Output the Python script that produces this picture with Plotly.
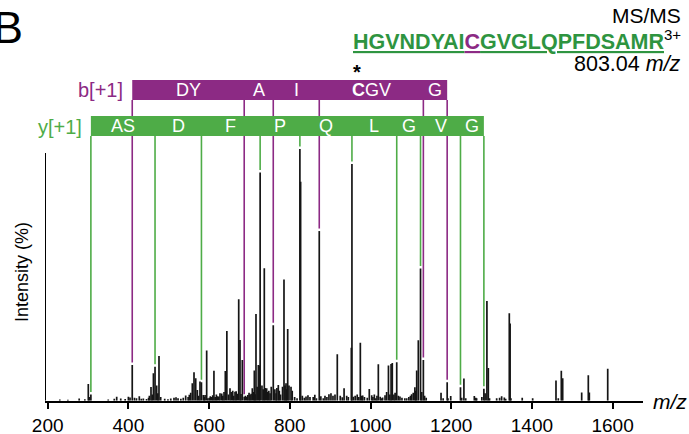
import plotly.graph_objects as go

# ---- spectrum data (m/z, relative intensity %) ----
peak_mz = [
    230, 250, 278, 292, 300.6, 303, 350, 365, 371, 381, 392, 400, 404, 415,
    420, 427, 432, 437, 445, 450, 452, 456, 459, 462, 470, 473, 475.8, 480, 490, 498,
    505, 513, 518, 523, 530, 536, 542, 548, 551, 554.4, 558.4, 562.6, 566.8, 570.8,
    574, 577.4, 585.6, 588, 590, 594, 597,
    600.5, 603, 606.4, 609, 612, 615, 618, 620.3, 624, 627, 631.2, 634, 637, 640.2,
    644, 648, 651.8, 655, 658.5, 661, 664.2, 667, 670, 673.4, 676.6, 679, 682.3,
    690, 693.2, 696, 699, 701.4, 704, 707.1, 710, 712.1, 714, 716.2, 719, 722,
    724.6, 731, 734, 736.8, 739, 742.7, 745, 748, 751, 754, 763, 766, 768,
    771.5, 774, 777, 782, 785.6, 788, 790.6, 792, 794.8, 798, 803, 806,
    812, 818, 826.8, 831, 836, 840.2, 845, 850, 858, 862, 866, 877, 883, 887.2,
    892, 897, 902, 907, 912, 917.7, 925, 930, 934.5, 941, 945, 952.5, 957.5,
    962, 967, 971, 974.8, 978, 980.7, 985, 992, 997,
    1003, 1006, 1009.5, 1013, 1016, 1019.4, 1024, 1027, 1030, 1036, 1040, 1044.5,
    1048, 1051, 1054, 1058, 1061, 1069, 1073, 1078, 1085, 1089.7, 1095, 1099,
    1102, 1106, 1110, 1112, 1114.5, 1118.5, 1127, 1134, 1138, 1174.8, 1180,
    1192, 1198.8, 1226, 1231.5, 1236, 1257.3, 1261, 1263, 1276, 1284, 1288.5,
    1292, 1295, 1312.7, 1320, 1325, 1331.6, 1335, 1344, 1346, 1348, 1376,
    1401.9, 1459.7, 1465.4, 1472.9, 1476.3, 1523.4, 1539.8, 1542.3, 1587.9,
]
peak_int = [
    0.5, 0.4, 0.9, 0.6, 6.6, 1.5, 0.5, 0.8, 1.6, 0.9, 0.7, 1.6, 1.3, 1.2,
    1.0, 1.8, 0.8, 0.9, 0.7, 1.2, 2.0, 5.4, 2.5, 10.9, 6.0, 3.0, 17.8, 1.5, 0.8, 0.6,
    0.9, 1.2, 1.4, 1.0, 0.8, 1.2, 2.1, 1.5, 2.4, 3.2, 6.9, 11.3, 8.9, 4.3,
    2.0, 7.6, 2.3, 1.5, 2.3, 19.9, 1.0,
    1.2, 1.8, 1.5, 2.2, 11.9, 1.5, 2.5, 1.8, 1.7, 3.0, 2.9, 2.0, 3.5, 11.8,
    27.7, 2.5, 4.9, 3.5, 4.0, 2.0, 3.6, 3.8, 2.8, 40.3, 24.1, 2.7, 16.2,
    2.0, 1.6, 2.3, 3.2, 2.3, 2.8, 4.9, 3.5, 12.0, 2.6, 34.4, 5.5, 14.2,
    14.0, 6.0, 4.5, 52.6, 5.0, 4.9, 3.5, 4.0, 3.0, 5.5, 4.5, 3.0, 5.0,
    6.2, 4.0, 2.5, 5.5, 48.2, 6.0, 6.9, 4.5, 28.5, 6.0, 5.5, 4.0,
    1.5, 1.0, 87.0, 2.0, 1.2, 1.7, 2.2, 1.5, 1.5, 2.4, 1.0, 1.8, 1.0, 2.0,
    1.5, 2.6, 3.0, 2.0, 2.5, 18.5, 2.0, 1.4, 4.9, 2.0, 1.5, 21.0, 1.6,
    2.0, 2.5, 1.5, 23.0, 2.0, 2.1, 1.5, 1.2, 4.6,
    2.2, 1.5, 2.5, 1.0, 2.0, 14.5, 1.6, 1.0, 1.3, 2.2, 3.5, 14.0,
    2.5, 14.6, 15.0, 2.5, 3.2, 2.0, 1.7, 1.2, 1.0, 1.0, 1.5, 2.0,
    2.6, 3.2, 5.3, 4.0, 12.0, 24.0, 3.5, 2.0, 1.2, 3.2, 1.0,
    1.0, 1.9, 1.2, 8.8, 1.0, 1.9, 1.2, 1.0, 1.5, 3.0, 39.6,
    13.0, 1.0, 1.0, 1.2, 1.8, 1.3, 0.8, 34.7, 30.7, 1.0, 1.2,
    1.0, 8.0, 1.0, 11.9, 8.9, 3.3, 10.1, 3.3, 12.7,
]

# ---- assigned fragment ions: position and matched peak intensity ----
b_mz = [409.5, 687, 759, 873, 1131, 1190]
b_int = [14.2, 1.6, 30.0, 67.4, 16.2, 7.3]
b_labels = ["DY", "A", "I", "<b>C</b>GV", "G"]

y_mz = [307, 466, 581, 726.5, 825, 954, 1065, 1124, 1223, 1281]
y_int = [2.5, 13.5, 7.3, 90.7, 100.0, 94.0, 15.3, 52.5, 5.3, 4.7]
y_labels = ["AS", "D", "F", "P", "Q", "L", "G", "V", "G"]

x_ticks = [200, 400, 600, 800, 1000, 1200, 1400, 1600]

PURPLE = "#8C2A84"
GREEN = "#4EAC47"
GREEN_TXT = "#2E9440"
FONT = "Liberation Sans, Arial, sans-serif"

W, H = 689, 434
X_RANGE = [193.3, 1674.6]
Y_TOP = 159.2          # intensity units at the top of the page
B_BAR = (119.5, 127.4)  # b-ladder band (intensity units)
Y_BAR = (105.2, 113.1)  # y-ladder band
GAP = 1.0


def px(x):
    return x / W


def py(y):
    return 1 - y / H


def sticks(xs, ys):
    sx, sy = [], []
    for x, y in zip(xs, ys):
        sx += [x, x, None]
        sy += [0, y, None]
    return sx, sy


def drops(xs, ys, top):
    sx, sy = [], []
    for x, y in zip(xs, ys):
        sx += [x, x, None]
        sy += [top, y + GAP, None]
    return sx, sy


def note(x, y, text, size, color="black", anchor="center", **kw):
    return dict(x=px(x), y=py(y), xref="paper", yref="paper", xanchor=anchor,
                yanchor="middle", text=text, showarrow=False,
                font=dict(family=FONT, size=size, color=color), **kw)


fig = go.Figure()

# fragment-ion guide lines (drawn first so the ladder bands cover them)
bx, by = drops(b_mz, b_int, B_BAR[0])
fig.add_trace(go.Scatter(x=bx, y=by, mode="lines",
                         line=dict(color=PURPLE, width=1.6), hoverinfo="skip"))
yx, yy = drops(y_mz, y_int, Y_BAR[0])
fig.add_trace(go.Scatter(x=yx, y=yy, mode="lines",
                         line=dict(color=GREEN, width=1.6), hoverinfo="skip"))

# spectrum sticks
sx, sy = sticks(peak_mz + b_mz + y_mz, peak_int + b_int + y_int)
fig.add_trace(go.Scatter(x=sx, y=sy, mode="lines",
                         line=dict(color="#151515", width=1.7), hoverinfo="skip"))

shapes = [
    dict(type="rect", xref="x", yref="y", x0=b_mz[0], x1=b_mz[-1],
         y0=B_BAR[0], y1=B_BAR[1], fillcolor=PURPLE, line=dict(width=0),
         layer="above"),
    dict(type="rect", xref="x", yref="y", x0=y_mz[0], x1=y_mz[-1],
         y0=Y_BAR[0], y1=Y_BAR[1], fillcolor=GREEN, line=dict(width=0),
         layer="above"),
    # intensity axis line
    dict(type="line", xref="x", yref="y", x0=X_RANGE[0], x1=X_RANGE[0],
         y0=0, y1=98.4, line=dict(color="black", width=2), layer="above"),
]

annotations = []
for lab, a, b in zip(b_labels, b_mz[:-1], b_mz[1:]):
    annotations.append(dict(x=(a + b) / 2, y=sum(B_BAR) / 2, xref="x", yref="y",
                            xanchor="center", yanchor="middle",
                            text=lab, showarrow=False,
                            font=dict(family=FONT, size=18, color="white")))
for lab, a, b in zip(y_labels, y_mz[:-1], y_mz[1:]):
    annotations.append(dict(x=(a + b) / 2, y=sum(Y_BAR) / 2, xref="x", yref="y",
                            xanchor="center", yanchor="middle",
                            text=lab, showarrow=False,
                            font=dict(family=FONT, size=18, color="white")))

annotations += [
    note(125, 90, "b[+1]", 20, PURPLE, "right"),
    note(84, 127, "y[+1]", 20, GREEN, "right"),
    note(357, 72, "<b>*</b>", 20),
    note(25, 28, "B", 45, anchor="right"),
    note(683, 15, "MS/MS", 21, anchor="right"),
    note(683, 40,
         ("<b><u>HGVNDYAI</u><span style='color:%s'><u>C</u></span>"
          "<u>GVGLQPFDSAMR</u></b><span style='color:black'><sup>3+</sup></span>") % PURPLE,
         21.5, GREEN_TXT, "right"),
    note(683, 64, "803.04 <i>m/z</i>", 21.5, anchor="right"),
    note(670, 401, "<i>m/z</i>", 21),
    note(22, 272, "Intensity (%)", 18, textangle=-90),
]

fig.update_layout(
    template="none",
    width=W, height=H,
    margin=dict(l=0, r=0, t=0, b=0, pad=0, autoexpand=False),
    paper_bgcolor="white", plot_bgcolor="white",
    showlegend=False,
    shapes=shapes,
    annotations=annotations,
    xaxis=dict(domain=[45 / W, 642.7 / W], range=X_RANGE, automargin=False,
               showline=True, linecolor="black", linewidth=2,
               ticks="outside", ticklen=6, tickwidth=2, tickcolor="black",
               tickvals=x_ticks, tickfont=dict(family=FONT, size=19, color="black"),
               showgrid=False, zeroline=False, fixedrange=True),
    yaxis=dict(domain=[(H - 400.7) / H, 1], range=[0, Y_TOP], visible=False,
               automargin=False, fixedrange=True),
)

fig.write_html("out.html")
